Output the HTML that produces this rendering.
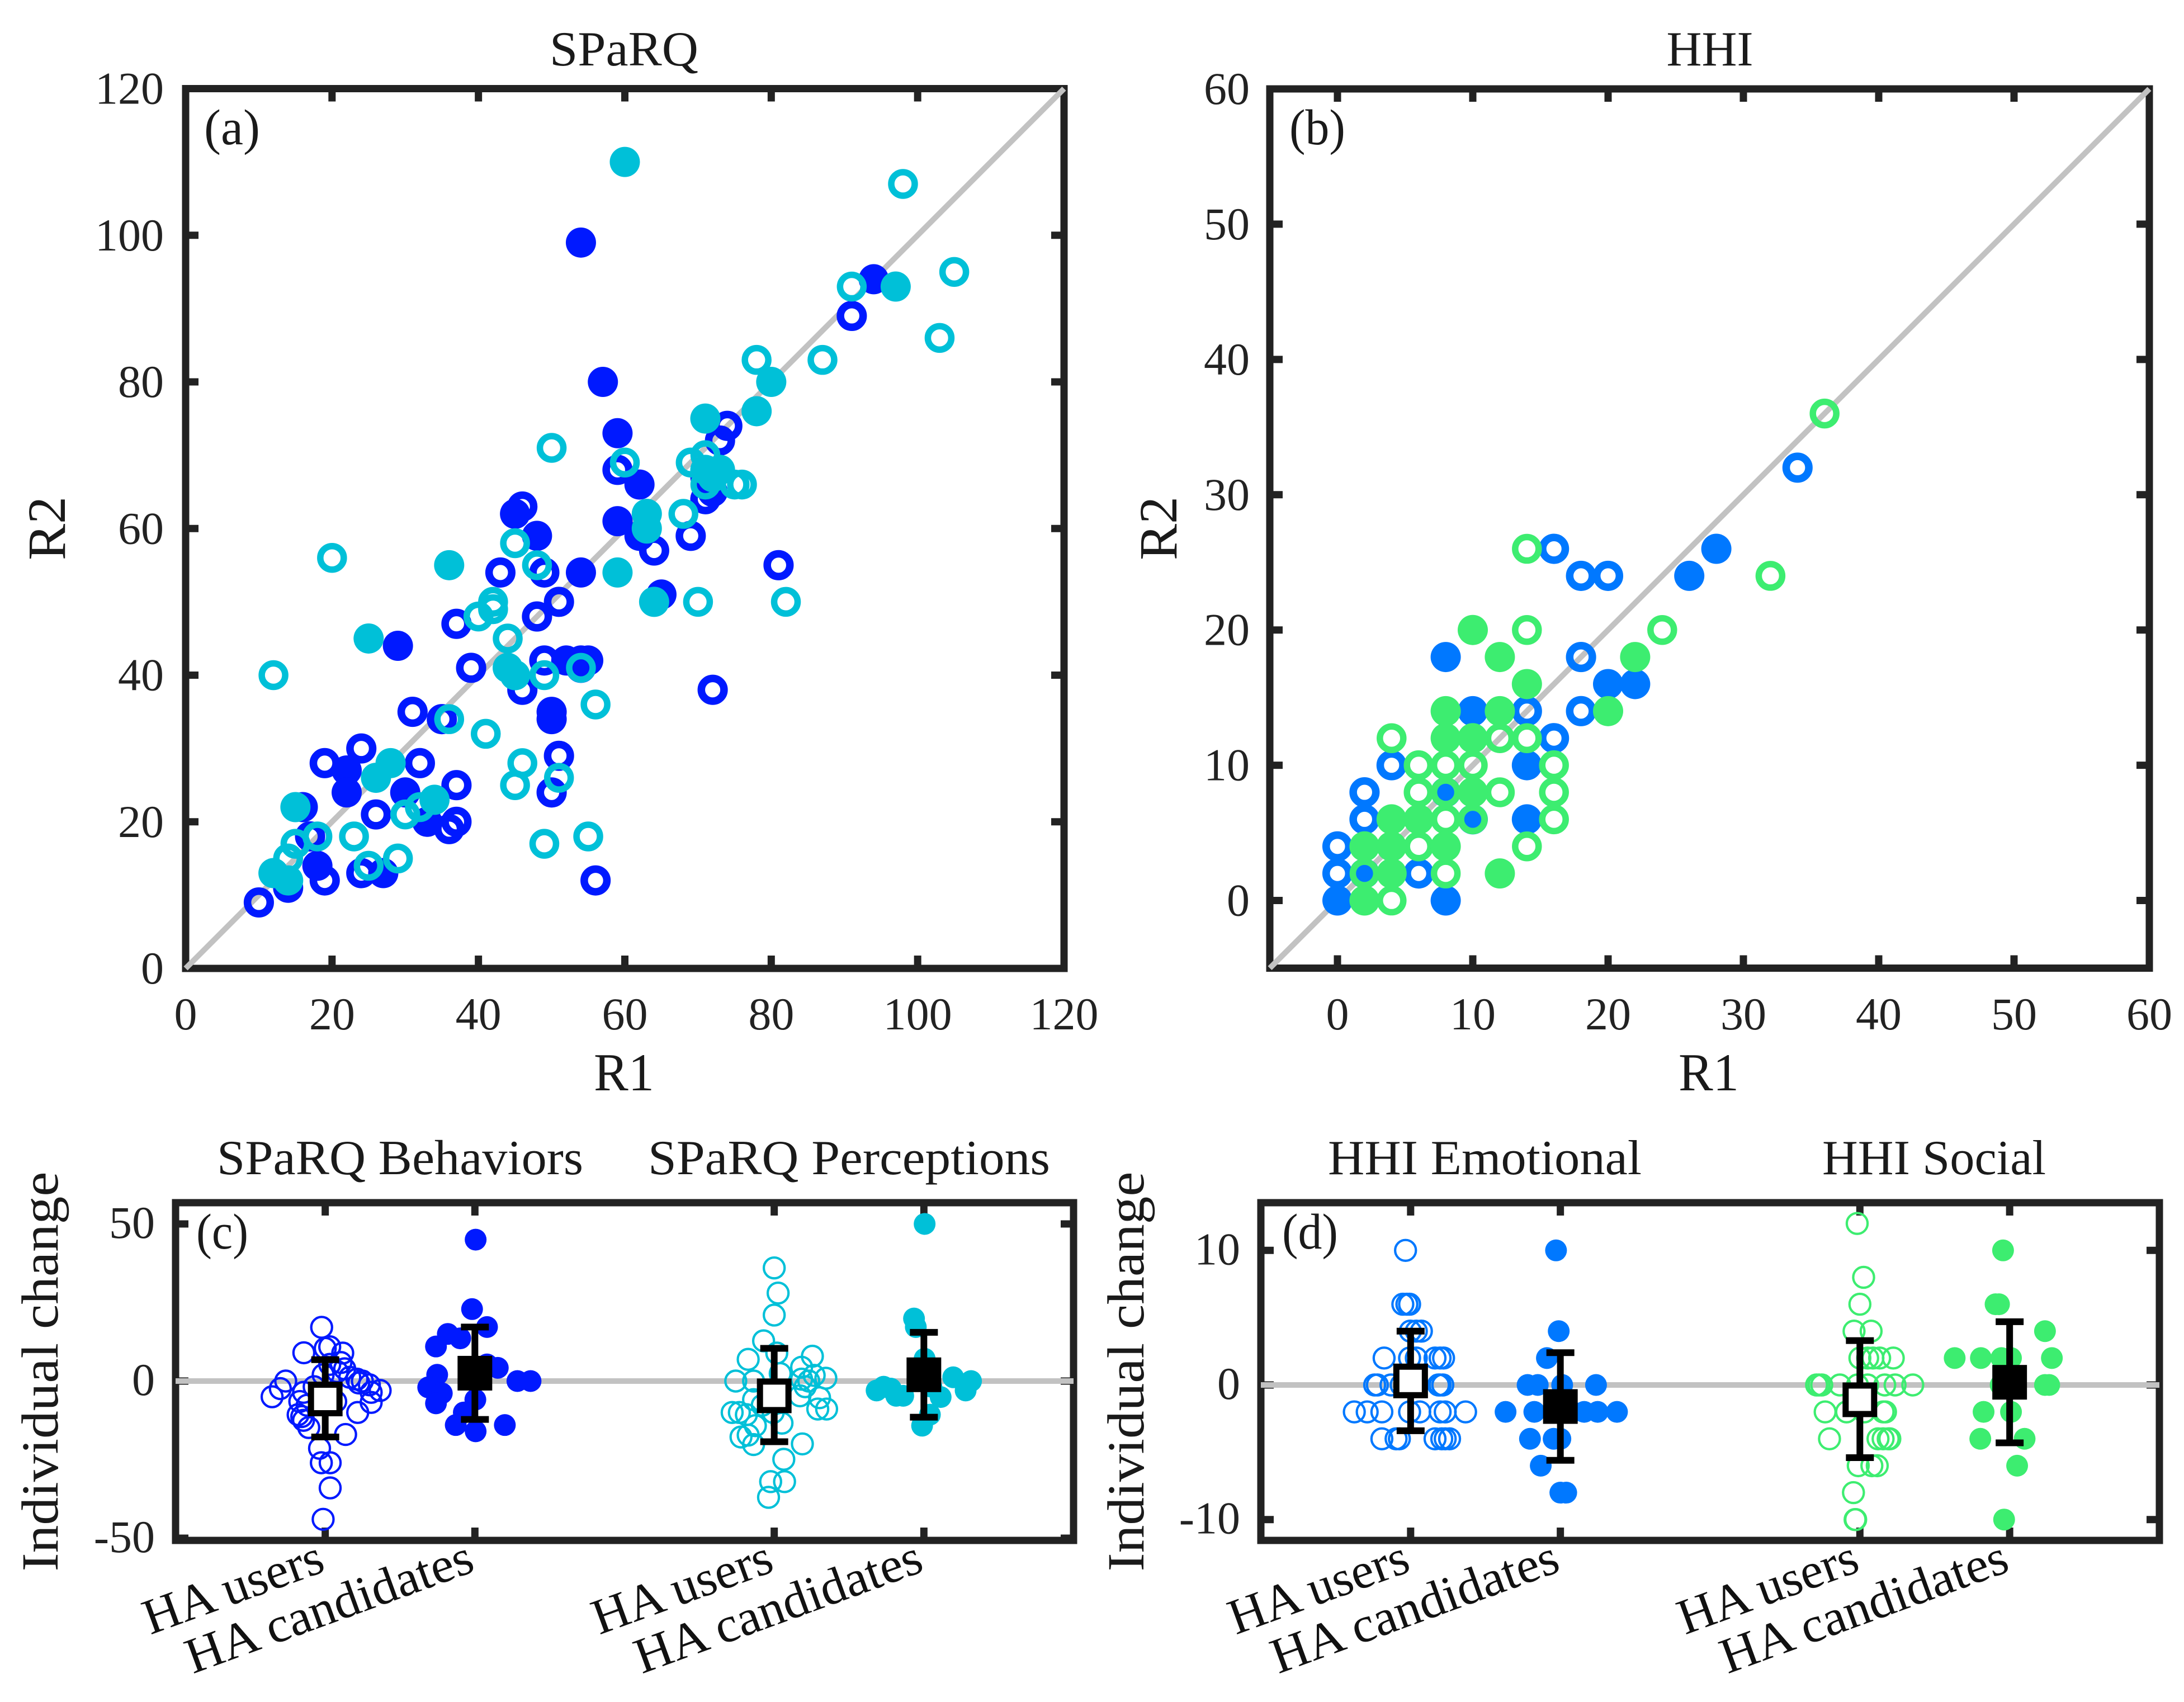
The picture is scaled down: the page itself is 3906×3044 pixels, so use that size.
<!DOCTYPE html>
<html lang="en">
<head>
<meta charset="utf-8">
<title>SPaRQ and HHI test-retest chart</title>
<style>
html,body{margin:0;padding:0;background:#fff;}
svg{display:block;}
text{font-family:"Liberation Serif",serif;}
</style>
</head>
<body>
<svg id="chart" xmlns="http://www.w3.org/2000/svg" width="3906" height="3044" viewBox="0 0 3906 3044">
<rect x="0" y="0" width="3906" height="3044" fill="#fff"/>
<g id="layer"></g>
<g fill="#1a1a1a" font-size="88">
<text x="1116" y="117" text-anchor="middle" textLength="266" lengthAdjust="spacingAndGlyphs">SPaRQ</text>
<text x="3058" y="117" text-anchor="middle" textLength="155" lengthAdjust="spacingAndGlyphs">HHI</text>
<text x="1116" y="1950" font-size="95" text-anchor="middle" textLength="108" lengthAdjust="spacingAndGlyphs">R1</text>
<text x="3056" y="1950" font-size="95" text-anchor="middle" textLength="108" lengthAdjust="spacingAndGlyphs">R1</text>
<text transform="translate(116,945) rotate(-90)" font-size="96" text-anchor="middle" textLength="114" lengthAdjust="spacingAndGlyphs">R2</text>
<text transform="translate(2104,945) rotate(-90)" font-size="96" text-anchor="middle" textLength="114" lengthAdjust="spacingAndGlyphs">R2</text>
<text x="365" y="258" font-size="90" textLength="100" lengthAdjust="spacingAndGlyphs">(a)</text>
<text x="2306" y="258" font-size="90" textLength="100" lengthAdjust="spacingAndGlyphs">(b)</text>
<text x="351" y="2233" font-size="90" textLength="93" lengthAdjust="spacingAndGlyphs">(c)</text>
<text x="2293" y="2233" font-size="90" textLength="100" lengthAdjust="spacingAndGlyphs">(d)</text>
<text x="388" y="2100" textLength="655" lengthAdjust="spacingAndGlyphs">SPaRQ Behaviors</text>
<text x="1159" y="2100" textLength="719" lengthAdjust="spacingAndGlyphs">SPaRQ Perceptions</text>
<text x="2375" y="2100" textLength="561" lengthAdjust="spacingAndGlyphs">HHI Emotional</text>
<text x="3259" y="2100" textLength="400" lengthAdjust="spacingAndGlyphs">HHI Social</text>
<text transform="translate(103,2453) rotate(-90)" font-size="93" text-anchor="middle" textLength="715" lengthAdjust="spacingAndGlyphs">Individual change</text>
<text transform="translate(2045,2453) rotate(-90)" font-size="93" text-anchor="middle" textLength="715" lengthAdjust="spacingAndGlyphs">Individual change</text>
</g>
</svg>
<script>
// ---------- Panel (a) SPaRQ: [R1, R2] ----------
const sparqBehaviorUsers = [[46,63],[74,74],[73,72],[59,68],[91,89],[49,54],[43,54],[64,57],[69,59],[81,55],[51,50],[48,48],[37,47],[39,41],[49,42],[46,38],[72,38],[31,35],[35,34],[19,28],[24,30],[32,28],[37,25],[26,21],[37,20],[36,19],[51,29],[50,24],[56,12],[10,9],[19,12],[24,13],[71,64],[54,41],[17,18],[16,22]];
const sparqBehaviorCandidates = [[54,99],[57,80],[94,94],[59,73],[62,66],[59,61],[45,62],[48,59],[54,54],[65,51],[29,44],[50,35],[50,34],[52,42],[54,42],[55,42],[22,27],[22,24],[30,24],[33,20],[18,14],[27,13],[14,11],[62,59],[72,65],[71,67]];
const sparqPerceptionUsers = [[98,107],[105,95],[91,93],[103,86],[87,83],[78,83],[50,71],[60,69],[69,69],[71,70],[71,66],[75,66],[76,66],[68,62],[45,58],[48,55],[20,56],[70,50],[82,50],[42,50],[42,49],[40,48],[44,45],[49,40],[54,41],[56,36],[36,34],[41,32],[46,28],[45,25],[51,26],[55,18],[49,17],[32,22],[30,21],[23,18],[29,15],[25,14],[18,18],[15,17],[14,15],[12,40]];
const sparqPerceptionCandidates = [[60,110],[97,93],[80,80],[78,76],[71,75],[36,55],[25,45],[59,54],[64,50],[63,62],[63,60],[71,68],[73,68],[72,67],[44,41],[45,40],[28,28],[26,26],[34,23],[15,22],[12,13],[14,12]];
const sparqTicks = [0,20,40,60,80,100,120];

// ---------- Panel (b) HHI: [R1, R2] ----------
const hhiEmotionalUsers = [[0,4],[0,2],[2,8],[2,6],[4,10],[6,2],[16,12],[14,14],[18,14],[18,18],[16,26],[18,24],[20,24],[34,32]];
const hhiEmotionalCandidates = [[0,0],[8,0],[8,18],[10,14],[14,10],[14,6],[20,16],[22,16],[26,24],[28,26],[2,2],[8,8],[10,6]];
const hhiSocialUsers = [[14,26],[14,20],[24,20],[4,12],[12,12],[14,12],[6,10],[8,10],[10,10],[16,10],[6,8],[12,8],[16,8],[8,6],[16,6],[14,4],[6,4],[8,2],[4,0],[36,36],[32,24],[2,2],[8,8],[10,6]];
const hhiSocialCandidates = [[10,20],[12,18],[14,16],[8,14],[12,14],[8,12],[10,12],[10,8],[4,6],[6,6],[2,4],[4,4],[8,4],[4,2],[2,0],[12,2],[22,18],[20,14]];
const hhiXTicks = [0,10,20,30,40,50,60];
const hhiYTicks = [0,10,20,30,40,50,60];

// ---------- Panel (c) individual change: [group position, change] ----------
const changeBehaviorUsers = [[0.976,17.1],[1,10.4],[1.03,10.9],[0.857,9],[1.117,8.9],[1.105,5.9],[1.03,5.3],[0.986,2],[1.08,3],[1.13,3.9],[1.164,1.2],[1.212,0.6],[1.248,0],[1.295,-1.2],[1.224,-0.6],[1.307,-3.6],[1.367,-3],[1.307,-6.8],[1.217,-10],[0.736,0],[0.7,-2.4],[0.645,-5],[0.855,-3.6],[0.83,-6.5],[0.879,-7.7],[0.819,-10.7],[0.855,-12.5],[0.843,-11.3],[0.89,-14.8],[1.136,-17],[0.962,-21.4],[0.974,-26],[1.033,-26],[1.033,-34],[0.986,-44],[0.926,-1.8],[1.02,-4.2],[1.07,-6.5]];
const changeBehaviorCandidates = [[2.005,45],[1.981,22.9],[2.081,17.2],[1.819,15],[1.902,13.6],[1.74,11],[2.153,4.2],[2.081,5.3],[2.284,0],[2.372,0],[1.748,2],[1.688,-2],[1.779,-3.9],[1.74,-7.1],[2.003,-5.9],[1.926,-10],[1.872,-14],[2.2,-14],[2.005,-16]];
const changePerceptionUsers = [[4,36],[4.026,28],[4,21],[3.929,12.8],[4.017,8.9],[3.826,6.9],[4.255,7.9],[4.183,4.4],[4.04,2.4],[3.862,0],[3.743,0],[4.345,0.9],[4.267,1.8],[4.231,0],[4.183,0.6],[4.207,-1.8],[4.172,-4.7],[4.303,-5.3],[4.291,-8.9],[4.35,-8.9],[3.862,-5.9],[3.719,-10],[3.767,-10],[3.814,-10.7],[3.874,-14.2],[4.052,-13.4],[3.778,-17.8],[3.826,-17.2],[3.862,-20.2],[4.188,-20],[4.064,-24.9],[4.069,-32],[3.976,-32],[3.962,-37],[3.993,-10],[3.92,-7.7]];
const changePerceptionCandidates = [[5.005,50],[4.934,19.9],[4.946,17.2],[5.005,7.1],[4.684,-3],[4.731,-1.8],[4.779,-2.4],[4.815,-4.7],[4.862,-4.7],[5.112,-5.1],[5.196,1.2],[5.315,0],[5.279,-3],[5.04,-10.7],[4.988,-14.2],[5.05,-1.8]];
// [group position, mean, upper, lower]
const changeSummaryC = [[1,-5.7,6.8,-17.8],[2,2.5,17.2,-12.2],[4,-4.7,10.4,-19.3],[5,2,15.5,-11.5]];
const changeTicksC = [-50,0,50];

// ---------- Panel (d) individual change: [group position, change] ----------
const changeEmotionalUsers = [[0.966,10],[0.948,6],[0.975,6],[0.993,6],[0.998,4],[1.038,4],[1.072,4],[0.823,2],[0.993,2],[1.038,2],[1.163,2],[1.197,2],[1.22,2],[0.76,0],[0.778,0],[0.869,0],[0.937,0],[1.186,0],[1.197,0],[1.215,0],[0.624,-2],[0.71,-2],[0.808,-2],[0.993,-2],[1.061,-2],[1.197,-2],[1.231,-2],[1.367,-2],[0.808,-4],[0.903,-4],[0.925,-4],[1.163,-4],[1.208,-4],[1.231,-4],[1.26,-4]];
const changeEmotionalCandidates = [[1.971,10],[1.989,4],[1.91,2],[1.781,0],[1.849,0],[2.012,0],[2.238,0],[1.634,-2],[1.826,-2],[2.159,-2],[2.249,-2],[2.378,-2],[2.079,-2],[1.797,-4],[1.955,-4],[2,-4],[1.869,-6],[2,-8],[2.039,-8]];
const changeSocialUsers = [[3.982,12],[4.025,8],[4,6],[3.961,4],[4.075,4],[4,2],[4.052,2],[4.132,2],[4.223,2],[4.087,2],[3.711,0],[3.727,0],[3.745,0],[3.866,0],[3.984,0],[4.052,0],[4.166,0],[4.235,0],[4.353,0],[3.768,-2],[3.911,-2],[4.03,-2],[4.155,-2],[4.171,-2],[3.797,-4],[4.121,-4],[4.155,-4],[4.189,-4],[4.2,-4],[3.989,-6],[4.08,-6],[4.116,-6],[3.957,-8],[3.968,-10],[3.972,-10]];
const changeSocialCandidates = [[4.956,10],[4.906,6],[4.929,6],[5.236,4],[4.633,2],[4.808,2],[4.945,2],[5.009,2],[5.282,2],[4.94,0],[5.236,0],[5.264,0],[4.826,-2],[5.009,-2],[4.804,-4],[5.1,-4],[5.05,-6],[4.963,-10]];
const changeSummaryD = [[1,0.3,4,-3.4],[2,-1.6,2.4,-5.6],[4,-1.1,3.3,-5.4],[5,0.2,4.7,-4.3]];
const changeTicksD = [-10,0,10];

const groupPositions = [1,2,4,5];
const groupLabels = ['HA users','HA candidates','HA users','HA candidates'];
const groupLabelLengths = [336,540,336,540];

const BLUE = '#0019ff', CYAN = '#00c0d8', AZURE = '#0078ff', GREEN = '#3ded70';
const FRAME = '#222222', GRAY = '#c2c2c2';
const NS = 'http://www.w3.org/2000/svg';
const layer = document.getElementById('layer');

function make(tag, parent) {
  const node = document.createElementNS(NS, tag);
  parent.appendChild(node);
  return node;
}

// Axis functions
function linearScale(d0, d1, p0, p1) {
  return function (v) { return p0 + (v - d0) * (p1 - p0) / (d1 - d0); };
}

function line(parent, x1, y1, x2, y2, color, width) {
  const l = make('line', parent);
  l.setAttribute('x1', x1);
  l.setAttribute('y1', y1);
  l.setAttribute('x2', x2);
  l.setAttribute('y2', y2);
  l.setAttribute('stroke', color);
  l.setAttribute('stroke-width', width);
  return l;
}

function drawFrame(panel, box, sx, sy, xTicks, yTicks) {
  const g = make('g', panel);
  
  
  const r = make('rect', g);
  
  
  r.setAttribute('x', box.x0);
  r.setAttribute('y', box.y0);
  r.setAttribute('width', box.x1 - box.x0);
  r.setAttribute('height', box.y1 - box.y0);
  r.setAttribute('fill', 'none');
  r.setAttribute('stroke', FRAME);
  r.setAttribute('stroke-width', 13);
  xTicks.forEach(function (t) {
    const a = line(g, sx(t), box.y1, sx(t), box.y1 - 23, FRAME, 13);
    
    
    const b = line(g, sx(t), box.y0, sx(t), box.y0 + 23, FRAME, 13);
    
    
  });
  yTicks.forEach(function (t) {
    const a = line(g, box.x0, sy(t), box.x0 + 23, sy(t), FRAME, 13);
    
    
    const b = line(g, box.x1, sy(t), box.x1 - 23, sy(t), FRAME, 13);
    
    
  });
}

function tickText(panel, value, x, y, anchor) {
  const t = make('text', panel);
  
  
  t.setAttribute('x', x);
  t.setAttribute('y', y);
  t.setAttribute('text-anchor', anchor);
  t.setAttribute('font-size', 82);
  t.setAttribute('fill', '#222');
  t.textContent = String(value);
}

function drawRings(panel, pts, sx, sy, color, r, sw) {
  const g = make('g', panel);
  
  
  pts.forEach(function (p) {
    const c = make('circle', g);
    
    
    c.setAttribute('cx', sx(p[0]));
    c.setAttribute('cy', sy(p[1]));
    c.setAttribute('r', r);
    c.setAttribute('fill', 'none');
    c.setAttribute('stroke', color);
    c.setAttribute('stroke-width', sw);
  });
}

function drawDots(panel, pts, sx, sy, color, r) {
  const g = make('g', panel);
  
  
  pts.forEach(function (p) {
    const c = make('circle', g);
    
    
    c.setAttribute('cx', sx(p[0]));
    c.setAttribute('cy', sy(p[1]));
    c.setAttribute('r', r);
    c.setAttribute('fill', color);
  });
}

function drawSummary(panel, rows, sx, sy) {
  rows.forEach(function (row, i) {
    const g = make('g', panel);
    
    
    const x = sx(row[0]);
    line(g, x, sy(row[2]), x, sy(row[3]), '#000', 12);
    line(g, x - 25, sy(row[2]), x + 25, sy(row[2]), '#000', 12);
    line(g, x - 25, sy(row[3]), x + 25, sy(row[3]), '#000', 12);
    const s = make('rect', g);
    
    
    const open = i % 2 === 0;
    const half = open ? 25.5 : 31;
    s.setAttribute('x', x - half);
    s.setAttribute('y', sy(row[1]) - half);
    s.setAttribute('width', half * 2);
    s.setAttribute('height', half * 2);
    s.setAttribute('fill', open ? '#fff' : '#000');
    if (open) {
      s.setAttribute('stroke', '#000');
      s.setAttribute('stroke-width', 11);
    }
  });
}

function drawScatter(name, box, xDom, yDom, xTicks, yTicks, xLabelY, yLabelX, rows) {
  const panel = make('g', layer);
  
  
  const sx = linearScale(xDom[0], xDom[1], box.x0, box.x1);
  const sy = linearScale(yDom[0], yDom[1], box.y1, box.y0);
  drawFrame(panel, box, sx, sy, xTicks, yTicks);
  const d = line(panel, box.x0, box.y1, box.x1, box.y0, GRAY, 10);
  
  
  xTicks.forEach(function (t) { tickText(panel, t, sx(t), xLabelY, 'middle'); });
  yTicks.forEach(function (t) { tickText(panel, t, yLabelX, sy(t) + 27, 'end'); });
  drawRings(panel, rows[0], sx, sy, rows[4], 20.3, 13.5);
  drawDots(panel, rows[1], sx, sy, rows[4], 27);
  drawRings(panel, rows[2], sx, sy, rows[5], 21, 11.5);
  drawDots(panel, rows[3], sx, sy, rows[5], 27);
}

function drawChange(name, box, yToPx, yTicks, yLabelX, rows, summary) {
  const panel = make('g', layer);
  
  
  const sx = linearScale(0, 6, box.x0, box.x1);
  const sy = yToPx;
  drawFrame(panel, box, sx, sy, groupPositions, yTicks);
  const z = line(panel, box.x0, sy(0), box.x1, sy(0), GRAY, 10);
  
  
  yTicks.forEach(function (t) { tickText(panel, t, yLabelX, sy(t) + 25, 'end'); });
  groupPositions.forEach(function (pos, i) {
    const t = make('text', panel);
    
    
    t.setAttribute('transform', 'translate(' + (sx(pos) + 3) + ',2809) rotate(-20)');
    t.setAttribute('text-anchor', 'end');
    t.setAttribute('font-size', 90);
    t.setAttribute('fill', '#111');
    t.setAttribute('textLength', groupLabelLengths[i]);
    t.setAttribute('lengthAdjust', 'spacingAndGlyphs');
    t.textContent = groupLabels[i];
  });
  drawRings(panel, rows[0], sx, sy, rows[4], 18.6, 4.2);
  drawDots(panel, rows[1], sx, sy, rows[4], 19.5);
  drawRings(panel, rows[2], sx, sy, rows[5], 18.6, 4.2);
  drawDots(panel, rows[3], sx, sy, rows[5], 19.5);
  drawSummary(panel, summary, sx, sy);
}

drawScatter('panel-a-sparq', {x0:332,x1:1903,y0:158.5,y1:1732}, [0,120], [0,120], sparqTicks, sparqTicks, 1841, 293,
  [sparqBehaviorUsers, sparqBehaviorCandidates, sparqPerceptionUsers, sparqPerceptionCandidates, BLUE, CYAN]);

drawScatter('panel-b-hhi', {x0:2271,x1:3844,y0:159,y1:1731.5}, [-5,60], [-5,60], hhiXTicks, hhiYTicks, 1841, 2235,
  [hhiEmotionalUsers, hhiEmotionalCandidates, hhiSocialUsers, hhiSocialCandidates, AZURE, GREEN]);

drawChange('panel-c-sparq-change', {x0:314,x1:1920,y0:2151,y1:2755}, linearScale(-50,50,2751,2189), changeTicksC, 277,
  [changeBehaviorUsers, changeBehaviorCandidates, changePerceptionUsers, changePerceptionCandidates, BLUE, CYAN], changeSummaryC);

drawChange('panel-d-hhi-change', {x0:2255,x1:3862,y0:2151,y1:2755}, linearScale(-10,10,2717.7,2236.3), changeTicksD, 2218,
  [changeEmotionalUsers, changeEmotionalCandidates, changeSocialUsers, changeSocialCandidates, AZURE, GREEN], changeSummaryD);
</script>
</body>
</html>
